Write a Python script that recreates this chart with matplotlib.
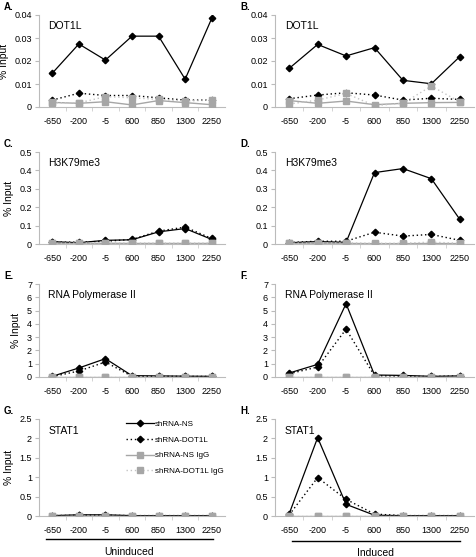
import matplotlib
matplotlib.use("Agg")
import matplotlib.pyplot as plt

plt.rcParams['font.family'] = ['Liberation Sans', 'DejaVu Sans']

# promoter positions (categories)
positions = ['-650', '-200', '-5', '600', '850', '1300', '2250']

# A. DOT1L uninduced
a_ns = [0.0147, 0.0274, 0.0204, 0.0308, 0.0308, 0.0121, 0.0385]
a_dot = [0.003, 0.006, 0.005, 0.005, 0.004, 0.003, 0.003]
a_ns_igg = [0.002, 0.0016, 0.0023, 0.0009, 0.0028, 0.0019, 0.001]
a_dot_igg = [0.0018, 0.0018, 0.0045, 0.004, 0.0033, 0.0026, 0.003]

# B. DOT1L induced
b_ns = [0.0168, 0.0272, 0.0222, 0.0258, 0.0116, 0.0101, 0.0219]
b_dot = [0.0036, 0.0052, 0.0062, 0.0052, 0.003, 0.0038, 0.0033]
b_ns_igg = [0.0028, 0.0016, 0.0026, 0.001, 0.0016, 0.0019, 0.002]
b_dot_igg = [0.0013, 0.003, 0.0059, 0.0006, 0.0016, 0.0091, 0.0022]

# C. H3K79me3 uninduced
c_ns = [0.0125, 0.007, 0.02, 0.023, 0.066, 0.084, 0.025]
c_dot = [0.01, 0.01, 0.015, 0.025, 0.07, 0.092, 0.03]
c_ns_igg = [0.003, 0.003, 0.004, 0.003, 0.003, 0.003, 0.003]
c_dot_igg = [0.005, 0.005, 0.006, 0.005, 0.005, 0.005, 0.005]

# D. H3K79me3 induced
d_ns = [0.007, 0.013, 0.009, 0.388, 0.41, 0.355, 0.134]
d_dot = [0.008, 0.015, 0.015, 0.064, 0.043, 0.052, 0.02]
d_ns_igg = [0.003, 0.003, 0.003, 0.002, 0.002, 0.003, 0.002]
d_dot_igg = [0.005, 0.005, 0.006, 0.004, 0.004, 0.01, 0.004]

# E. RNA Pol II uninduced
e_ns = [0.05, 0.68, 1.38, 0.1, 0.08, 0.06, 0.05]
e_dot = [0.03, 0.45, 1.13, 0.05, 0.05, 0.05, 0.04]
e_ns_igg = [0.02, 0.02, 0.02, 0.02, 0.02, 0.02, 0.02]
e_dot_igg = [0.02, 0.02, 0.02, 0.02, 0.02, 0.02, 0.02]

# F. RNA Pol II induced
f_ns = [0.3, 0.95, 5.52, 0.15, 0.12, 0.05, 0.08]
f_dot = [0.25, 0.75, 3.6, 0.1, 0.05, 0.04, 0.08]
f_ns_igg = [0.02, 0.02, 0.02, 0.02, 0.02, 0.02, 0.02]
f_dot_igg = [0.02, 0.02, 0.02, 0.02, 0.02, 0.02, 0.02]

# G. STAT1 uninduced
g_ns = [0.01, 0.03, 0.03, 0.01, 0.01, 0.01, 0.01]
g_dot = [0.01, 0.02, 0.02, 0.01, 0.01, 0.01, 0.01]
g_ns_igg = [0.01, 0.01, 0.01, 0.01, 0.01, 0.01, 0.01]
g_dot_igg = [0.01, 0.01, 0.01, 0.01, 0.01, 0.01, 0.01]

# H. STAT1 induced
h_ns = [0.06, 2.02, 0.3, 0.02, 0.01, 0.01, 0.01]
h_dot = [0.03, 0.99, 0.43, 0.05, 0.01, 0.01, 0.01]
h_ns_igg = [0.01, 0.01, 0.01, 0.01, 0.01, 0.01, 0.01]
h_dot_igg = [0.01, 0.01, 0.01, 0.01, 0.01, 0.01, 0.01]

panels = [
    ('A.', 'DOT1L', a_ns, a_dot, a_ns_igg, a_dot_igg, 0.04, 0.01),
    ('B.', 'DOT1L', b_ns, b_dot, b_ns_igg, b_dot_igg, 0.04, 0.01),
    ('C.', 'H3K79me3', c_ns, c_dot, c_ns_igg, c_dot_igg, 0.5, 0.1),
    ('D.', 'H3K79me3', d_ns, d_dot, d_ns_igg, d_dot_igg, 0.5, 0.1),
    ('E.', 'RNA Polymerase II', e_ns, e_dot, e_ns_igg, e_dot_igg, 7, 1),
    ('F.', 'RNA Polymerase II', f_ns, f_dot, f_ns_igg, f_dot_igg, 7, 1),
    ('G.', 'STAT1', g_ns, g_dot, g_ns_igg, g_dot_igg, 2.5, 0.5),
    ('H.', 'STAT1', h_ns, h_dot, h_ns_igg, h_dot_igg, 2.5, 0.5),
]

W, H = 476, 557
fig = plt.figure(figsize=(W / 100, H / 100), dpi=100)

# pixel boxes: (left, right) per column, (top, bottom) per row
cols = [(39, 225), (275, 474)]
rows = [(15, 107), (152, 244), (284, 377), (419, 516)]

gray = '#a6a6a6'
light = '#c4c4c4'
dots = (0, (1, 2))
x = list(range(len(positions)))

for i, (lab, title, ns, dot, ns_igg, dot_igg, ymax, step) in enumerate(panels):
    c, r = i % 2, i // 2
    l, rr = cols[c]
    t, b = rows[r]
    ax = fig.add_axes([l / W, 1 - b / H, (rr - l) / W, (b - t) / H])

    # black series underneath, gray IgG on top (as in the original)
    ax.plot(x, ns, color='black', ls='-', lw=0.9, marker='D', ms=3.3,
            label='shRNA-NS', zorder=2)
    ax.plot(x, dot, color='black', ls=dots, lw=1, marker='D', ms=3.3,
            label='shRNA-DOT1L', zorder=2)
    ax.plot(x, ns_igg, color=gray, ls='-', lw=1, marker='s', ms=3.8,
            mfc=gray, mec=gray, label='shRNA-NS IgG', zorder=3)
    ax.plot(x, dot_igg, color=light, ls=dots, lw=1, marker='s', ms=3.8,
            mfc=gray, mec=gray, label='shRNA-DOT1L IgG', zorder=3)

    ax.set_xlim(-0.5, len(positions) - 0.5)
    ax.set_ylim(0, ymax)
    nt = int(round(ymax / step))
    yt = [k * step for k in range(nt + 1)]
    ax.set_yticks(yt)
    ax.set_yticklabels(['0'] + ['%g' % v for v in yt[1:]])
    ax.set_xticks(x)
    ax.set_xticklabels(positions)
    ax.set_xticks([k + 0.5 for k in x[:-1]], minor=True)
    ax.tick_params(axis='x', which='major', length=0, labelsize=6.5, pad=7)
    ax.tick_params(axis='x', which='minor', length=3, color='#cccccc')
    ax.tick_params(axis='y', length=3, color='#bbbbbb', labelsize=6.5, pad=2)
    for s in ['top', 'right']:
        ax.spines[s].set_visible(False)
    for s in ['left', 'bottom']:
        ax.spines[s].set_color('#bbbbbb')
        ax.spines[s].set_linewidth(0.8)

    ax.text(0.05, 0.88, title, transform=ax.transAxes, fontsize=7.5,
            va='center', ha='left')
    if c == 0:
        ax.set_ylabel('% Input', fontsize=7.5, labelpad=4)

    fig.text((4 if c == 0 else 240) / W, 1 - (rows[r][0] - 8) / H, lab,
             fontsize=7, fontweight='bold', va='center', ha='left')

    if i == 6:
        ax.legend(loc='upper right', bbox_to_anchor=(1.03, 1.06),
                  frameon=False, fontsize=5.8, handlelength=3.5,
                  handletextpad=0.1, labelspacing=1.0)

# brackets for uninduced / induced
fig.add_artist(plt.Line2D([46 / W, 213 / W], [1 - 539 / H, 1 - 539 / H],
                          color='black', lw=1))
fig.text(129 / W, 1 - 552 / H, 'Uninduced', fontsize=7.5, ha='center', va='center')
fig.add_artist(plt.Line2D([292 / W, 460 / W], [1 - 541 / H, 1 - 541 / H],
                          color='black', lw=1))
fig.text(376 / W, 1 - 553 / H, 'Induced', fontsize=7.5, ha='center', va='center')

fig.savefig('out.png', dpi=100)
